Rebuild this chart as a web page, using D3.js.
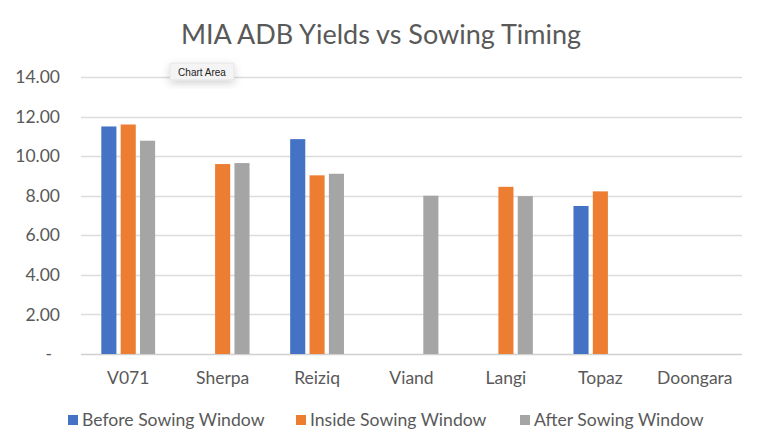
<!DOCTYPE html>
<html>
<head>
<meta charset="utf-8">
<script src="https://cdn.jsdelivr.net/npm/d3@7"></script>
<style>
  body { margin: 0; background: #fff; }
  text { font-family: Lato, "Open Sans", sans-serif; fill: #595959; }
</style>
</head>
<body>
<svg id="chart" width="761" height="448"></svg>
<script>
// data
var categories = ["V071", "Sherpa", "Reiziq", "Viand", "Langi", "Topaz", "Doongara"];
var seriesNames = ["Before Sowing Window", "Inside Sowing Window", "After Sowing Window"];
var beforeVals = [11.50, null, 10.86, null, null, 7.48, null];
var insideVals = [11.60, 9.60, 9.03, null, 8.45, 8.22, null];
var afterVals = [10.78, 9.65, 9.11, 8.00, 7.98, null, null];
var yTicks = [0, 2, 4, 6, 8, 10, 12, 14];
var colors = ["#4472C4", "#ED7D31", "#A5A5A5"];

var series = [beforeVals, insideVals, afterVals];

var svg = d3.select("#chart");
var pLeft = 81, pRight = 742, pTop = 77, pBottom = 354;

var x = d3.scaleBand().domain(categories).range([pLeft, pRight]);
var xs = d3.scaleBand().domain(d3.range(3)).range([0, x.bandwidth()]).paddingInner(0.22).paddingOuter(1.05);
var y = d3.scaleLinear().domain([0, 14]).range([pBottom, pTop]);

//title
svg.append("text")
    .attr("x", 381)
    .attr("y", 44)
    .attr("text-anchor", "middle")
    .style("font-size", "27px")
    .text("MIA ADB Yields vs Sowing Timing");

//gridlines
svg.append("g")
    .selectAll("line")
    .data(yTicks)
    .enter()
    .append("line")
    .attr("x1", pLeft)
    .attr("x2", pRight)
    .attr("y1", function(d){ return Math.round(y(d)) + 0.5; })
    .attr("y2", function(d){ return Math.round(y(d)) + 0.5; })
    .attr("stroke", function(d){ return d === 0 ? "#D0D0D0" : "#DCDCDC"; })
    .attr("stroke-width", 1.5);

//y axis labels
var yAxis = d3.axisLeft(y)
    .tickValues(yTicks)
    .tickSize(0)
    .tickPadding(0)
    .tickFormat(function(d){ return d === 0 ? "-" : d3.format(".2f")(d); });

var yg = svg.append("g")
    .attr("transform", "translate(60,0)")
    .call(yAxis);
yg.select(".domain").remove();
yg.selectAll("text")
    .style("font-size", "17.5px")
    .style("fill", "#595959")
    .style("font-family", "Lato, sans-serif")
    .attr("dx", function(d){ return d === 0 ? -8 : 0; });

//bars
var groups = svg.append("g")
    .selectAll("g")
    .data(series)
    .enter()
    .append("g")
    .attr("fill", function(d, i){ return colors[i]; });

groups.each(function(vals, si){
    d3.select(this).selectAll("rect")
        .data(vals.map(function(v, ci){ return {v: v, c: categories[ci]}; })
            .filter(function(d){ return d.v !== null; }))
        .enter()
        .append("rect")
        .attr("x", function(d){ return x(d.c) + xs(si); })
        .attr("width", xs.bandwidth())
        .attr("y", function(d){ return y(d.v); })
        .attr("height", function(d){ return y(0) - y(d.v); });
});

//x labels
var xAxis = d3.axisBottom(x).tickSize(0).tickPadding(0);
var xg = svg.append("g")
    .attr("transform", "translate(0," + 372 + ")")
    .call(xAxis);
xg.select(".domain").remove();
xg.selectAll("text")
    .style("font-size", "17.5px")
    .style("fill", "#595959")
    .style("font-family", "Lato, sans-serif")
    .attr("dy", "0.71em");

//legend
var legendX = [68, 296, 520];
var lg = svg.append("g")
    .selectAll("g")
    .data(seriesNames)
    .enter()
    .append("g")
    .attr("transform", function(d, i){ return "translate(" + legendX[i] + ",415)"; });
lg.append("rect")
    .attr("width", 10)
    .attr("height", 10)
    .attr("fill", function(d, i){ return colors[i]; });
lg.append("text")
    .attr("x", 14)
    .attr("y", 11)
    .style("font-size", "17.6px")
    .text(function(d){ return d; });

//tooltip "Chart Area"
var defs = svg.append("defs");
var f = defs.append("filter").attr("id", "sh").attr("x", "-50%").attr("y", "-50%").attr("width", "200%").attr("height", "200%");
f.append("feDropShadow").attr("dx", 0).attr("dy", 3).attr("stdDeviation", 4).attr("flood-color", "#000").attr("flood-opacity", 0.18);
var tip = svg.append("g").attr("transform", "translate(170,63)");
tip.append("rect")
    .attr("width", 64)
    .attr("height", 17)
    .attr("rx", 2)
    .attr("fill", "#F4F4F4")
    .attr("stroke", "#D6D6D6")
    .attr("stroke-width", 0.5)
    .attr("filter", "url(#sh)");
tip.append("text")
    .attr("x", 32)
    .attr("y", 12.5)
    .attr("text-anchor", "middle")
    .style("font-family", "'Liberation Sans', Arial, sans-serif")
    .style("font-size", "10px")
    .style("fill", "#222")
    .text("Chart Area");
</script>
</body>
</html>
